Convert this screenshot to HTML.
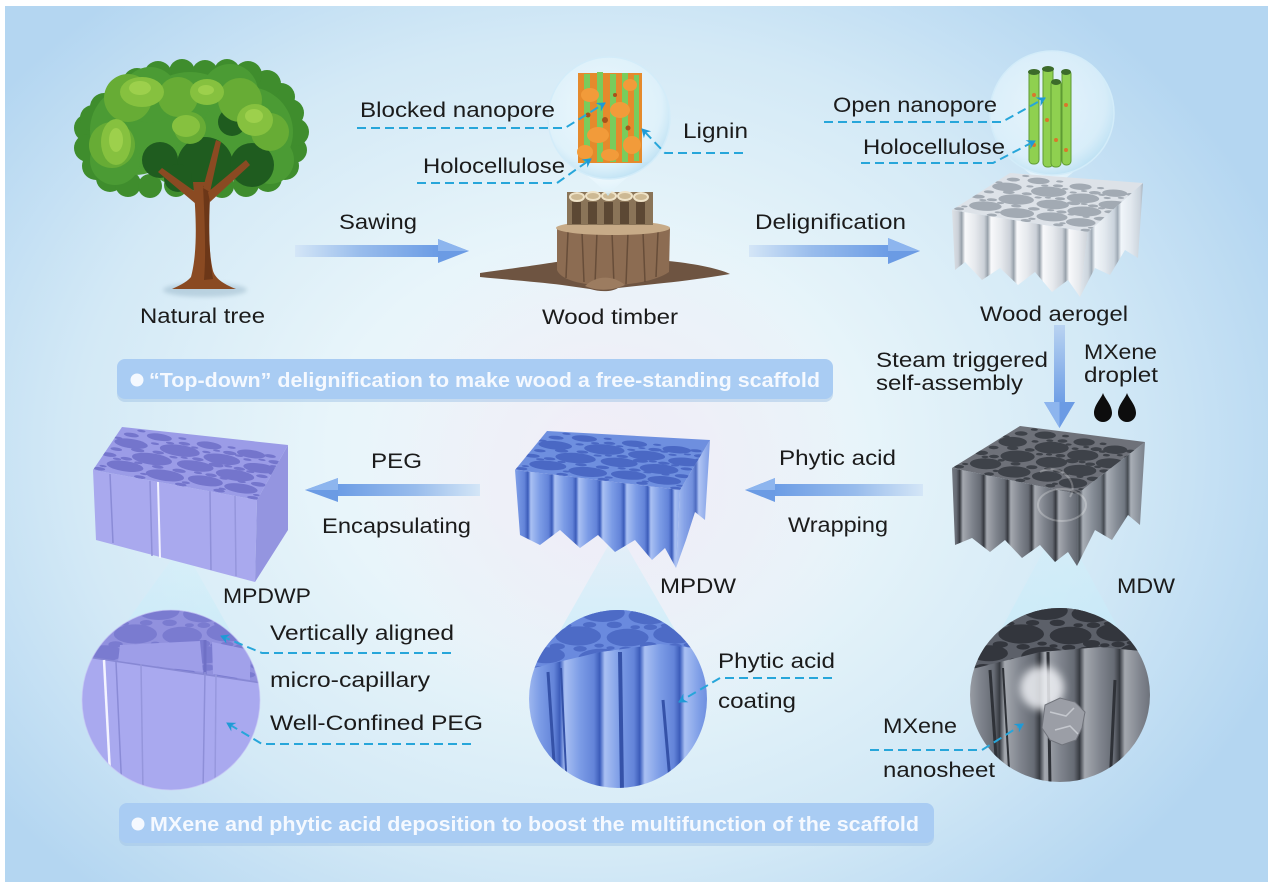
<!DOCTYPE html>
<html><head><meta charset="utf-8">
<style>
html,body{margin:0;padding:0;background:#fff;}
svg{display:block;}
text{font-family:"Liberation Sans",Arial,sans-serif;fill:#1b1b1b;}
.b{font-weight:bold;fill:#f5f9ff;}
</style></head><body>
<svg width="1275" height="889" viewBox="0 0 1275 889" xmlns="http://www.w3.org/2000/svg">
<defs>
 <radialGradient id="bg" cx="590" cy="450" r="740" gradientUnits="userSpaceOnUse" gradientTransform="translate(590 450) scale(1 0.8) translate(-590 -450)">
  <stop offset="0" stop-color="#f1f7fb"/>
  <stop offset="0.35" stop-color="#e8f5fa"/>
  <stop offset="0.7" stop-color="#d3e9f6"/>
  <stop offset="1" stop-color="#b4d6f1"/>
 </radialGradient>
 <radialGradient id="lav" cx="620" cy="480" r="260" gradientUnits="userSpaceOnUse">
  <stop offset="0" stop-color="#efe6f4" stop-opacity="0.7"/>
  <stop offset="1" stop-color="#efe6f4" stop-opacity="0"/>
 </radialGradient>
 <linearGradient id="arR" x1="0" x2="1" y1="0" y2="0">
  <stop offset="0" stop-color="#d4e6f7"/><stop offset="0.45" stop-color="#98bcec"/><stop offset="1" stop-color="#6b9ce5"/>
 </linearGradient>
 <linearGradient id="arL" x1="1" x2="0" y1="0" y2="0">
  <stop offset="0" stop-color="#d4e6f7"/><stop offset="0.45" stop-color="#98bcec"/><stop offset="1" stop-color="#6b9ce5"/>
 </linearGradient>
 <linearGradient id="arD" x1="0" x2="0" y1="0" y2="1">
  <stop offset="0" stop-color="#b9d3f1"/><stop offset="1" stop-color="#6d9de5"/>
 </linearGradient>
 <linearGradient id="cone" x1="0" x2="0" y1="0" y2="1">
  <stop offset="0" stop-color="#d2f0fb" stop-opacity="0.35"/><stop offset="1" stop-color="#c2e9f8" stop-opacity="0.85"/>
 </linearGradient>
 <radialGradient id="bub" cx="0.45" cy="0.4" r="0.6">
  <stop offset="0" stop-color="#f4fcff" stop-opacity="0.7"/>
  <stop offset="0.8" stop-color="#dff2fb" stop-opacity="0.75"/>
  <stop offset="1" stop-color="#bfe2f4" stop-opacity="0.9"/>
 </radialGradient>
 <linearGradient id="gW" x1="0" x2="1"><stop offset="0" stop-color="#a3abb4"/><stop offset="0.12" stop-color="#f8f9fb"/><stop offset="0.5" stop-color="#e6e9ed"/><stop offset="0.85" stop-color="#cbd1d8"/><stop offset="1" stop-color="#949da7"/></linearGradient>
 <linearGradient id="gG" x1="0" x2="1"><stop offset="0" stop-color="#3e4249"/><stop offset="0.12" stop-color="#a4a8af"/><stop offset="0.5" stop-color="#80858e"/><stop offset="0.85" stop-color="#666b74"/><stop offset="1" stop-color="#34373d"/></linearGradient>
 <linearGradient id="gB" x1="0" x2="1"><stop offset="0" stop-color="#3d5fbf"/><stop offset="0.12" stop-color="#a9c0f3"/><stop offset="0.5" stop-color="#7c9ce6"/><stop offset="0.85" stop-color="#6384d9"/><stop offset="1" stop-color="#3b5bb8"/></linearGradient>
 <pattern id="pW" width="26" height="20" patternUnits="userSpaceOnUse"><rect width="26" height="20" fill="url(#gW)"/></pattern>
 <pattern id="pG" width="24" height="20" patternUnits="userSpaceOnUse"><rect width="24" height="20" fill="url(#gG)"/></pattern>
 <pattern id="pB" width="24" height="20" patternUnits="userSpaceOnUse"><rect width="24" height="20" fill="url(#gB)"/></pattern>
 <pattern id="pB2" width="40" height="20" patternUnits="userSpaceOnUse"><rect width="40" height="20" fill="url(#gB)"/></pattern>
 <pattern id="pG2" width="40" height="20" patternUnits="userSpaceOnUse"><rect width="40" height="20" fill="url(#gG)"/></pattern>
 <filter id="bl4" x="-50%" y="-50%" width="200%" height="200%"><feGaussianBlur stdDeviation="4"/></filter>
 <filter id="bl2" x="-50%" y="-50%" width="200%" height="200%"><feGaussianBlur stdDeviation="2"/></filter>
 <marker id="ah" markerWidth="10" markerHeight="10" refX="8" refY="5" orient="auto" markerUnits="userSpaceOnUse">
  <path d="M0,0 L9,5 L0,10 L3,5 Z" fill="#1f9ad6"/>
 </marker>
 <g id="holes">
  <circle cx="16" cy="20" r="11"/><circle cx="41" cy="16" r="11.5"/><circle cx="65" cy="20" r="10.5"/><circle cx="87" cy="18" r="10"/>
  <circle cx="28" cy="45" r="12"/><circle cx="54" cy="47" r="11"/><circle cx="79" cy="43" r="11.5"/><circle cx="11" cy="69" r="10"/>
  <circle cx="40" cy="73" r="12"/><circle cx="66" cy="71" r="11"/><circle cx="90" cy="67" r="10"/><circle cx="24" cy="93" r="7.5"/>
  <circle cx="54" cy="95" r="7.5"/><circle cx="80" cy="93" r="8.5"/>
  <circle cx="3" cy="38" r="4.5"/><circle cx="14" cy="36" r="3.5"/><circle cx="47" cy="31" r="4"/><circle cx="66" cy="34" r="3.5"/>
  <circle cx="95" cy="33" r="4.5"/><circle cx="5" cy="52" r="3.5"/><circle cx="17" cy="58" r="4"/><circle cx="65" cy="57" r="4.5"/>
  <circle cx="94" cy="51" r="3.5"/><circle cx="29" cy="61" r="3.5"/><circle cx="53" cy="62" r="3.5"/><circle cx="79" cy="58" r="3.5"/>
  <circle cx="8" cy="87" r="4.5"/><circle cx="40" cy="89" r="3.5"/><circle cx="68" cy="87" r="4"/><circle cx="96" cy="85" r="4"/>
  <circle cx="53" cy="3" r="3.5"/><circle cx="76" cy="5" r="3.5"/><circle cx="28" cy="3" r="3.5"/><circle cx="97" cy="3" r="3.5"/>
  <circle cx="3" cy="5" r="3.5"/><circle cx="34" cy="31" r="3.5"/><circle cx="91" cy="96" r="3.5"/>
  <circle cx="9" cy="32" r="2.5"/><circle cx="22" cy="32" r="2.5"/><circle cx="58" cy="34" r="2.5"/><circle cx="74" cy="32" r="2.5"/>
  <circle cx="85" cy="32" r="2.5"/><circle cx="39" cy="57" r="2.5"/><circle cx="45" cy="60" r="2.2"/><circle cx="72" cy="59" r="2.5"/>
  <circle cx="86" cy="56" r="2.5"/><circle cx="99" cy="60" r="2.5"/><circle cx="2" cy="76" r="2.5"/><circle cx="24" cy="78" r="2.5"/>
  <circle cx="55" cy="80" r="2.5"/><circle cx="80" cy="80" r="2.5"/><circle cx="97" cy="76" r="2.5"/><circle cx="32" cy="85" r="2.5"/>
  <circle cx="47" cy="85" r="2.2"/><circle cx="60" cy="87" r="2.2"/><circle cx="74" cy="85" r="2.5"/><circle cx="88" cy="85" r="2.2"/>
  <circle cx="12" cy="99" r="2.5"/><circle cx="37" cy="99" r="2.5"/><circle cx="67" cy="99" r="2.5"/><circle cx="29" cy="11" r="2.2"/>
  <circle cx="55" cy="9" r="2.5"/><circle cx="77" cy="10" r="2.2"/><circle cx="98" cy="10" r="2.2"/><circle cx="4" cy="12" r="2.2"/>
 </g>
 <clipPath id="cAer"><polygon points="952,210 1010,173 1143,183 1088,232"/></clipPath>
 <clipPath id="cMdw"><polygon points="952,468 1020,426 1145,442 1077,494"/></clipPath>
 <clipPath id="cMpdw"><polygon points="515,470 547,431 710,440 680,490"/></clipPath>
 <clipPath id="cMpdwp"><polygon points="93,470 122,427 288,445 257,500"/></clipPath>
 <clipPath id="eP"><ellipse cx="171" cy="700" rx="89" ry="90"/></clipPath>
 <clipPath id="eB"><ellipse cx="618" cy="699" rx="89" ry="89"/></clipPath>
 <clipPath id="eG"><ellipse cx="1060" cy="695" rx="90" ry="87"/></clipPath>
 <clipPath id="tP"><polygon points="80,600 262,600 262,683 87,657"/></clipPath>
 <clipPath id="tB"><polygon points="525,600 712,600 712,650 660,644 600,652 525,670"/></clipPath>
 <clipPath id="tG"><polygon points="968,600 1152,600 1152,652 1100,647 1040,652 968,670"/></clipPath>
</defs>

<!-- background panel -->
<rect width="1275" height="889" fill="#ffffff"/>
<rect x="5" y="6" width="1263" height="876" fill="url(#bg)"/>
<rect x="5" y="6" width="1263" height="876" fill="url(#lav)"/>

<!-- ============ TREE ============ -->
<ellipse cx="205" cy="290" rx="42" ry="7" fill="#7d9fb5" opacity="0.35" filter="url(#bl2)"/>
<g fill="#3f8d2d">
 <circle cx="88" cy="128" r="14"/><circle cx="88" cy="148" r="14"/><circle cx="96" cy="166" r="14"/><circle cx="110" cy="178" r="14"/>
 <circle cx="128" cy="184" r="13"/><circle cx="150" cy="186" r="12"/><circle cx="176" cy="185" r="12"/><circle cx="222" cy="186" r="12"/>
 <circle cx="246" cy="184" r="13"/><circle cx="268" cy="178" r="14"/><circle cx="285" cy="166" r="14"/><circle cx="294" cy="150" r="13"/>
 <circle cx="295" cy="132" r="14"/><circle cx="290" cy="113" r="14"/><circle cx="281" cy="97" r="14"/><circle cx="267" cy="84" r="14"/>
 <circle cx="248" cy="75" r="14"/><circle cx="227" cy="72" r="13"/><circle cx="205" cy="73" r="13"/><circle cx="182" cy="72" r="13"/>
 <circle cx="158" cy="75" r="14"/><circle cx="137" cy="82" r="14"/><circle cx="120" cy="94" r="14"/><circle cx="104" cy="107" r="14"/><circle cx="93" cy="118" r="13"/>
</g>
<g fill="#4b9b34">
 <circle cx="190" cy="130" r="58"/><circle cx="135" cy="130" r="45"/><circle cx="248" cy="132" r="45"/>
 <circle cx="150" cy="95" r="28"/><circle cx="230" cy="92" r="28"/><circle cx="115" cy="160" r="25"/><circle cx="270" cy="160" r="24"/>
</g>
<g fill="#1f5c1f">
 <circle cx="205" cy="165" r="28"/><circle cx="252" cy="165" r="22"/><circle cx="160" cy="160" r="18"/><circle cx="232" cy="122" r="14"/>
 <circle cx="178" cy="178" r="14"/>
</g>
<g fill="#67ac35">
 <circle cx="128" cy="98" r="24"/><circle cx="178" cy="97" r="20"/><circle cx="240" cy="100" r="22"/><circle cx="270" cy="132" r="19"/>
 <circle cx="112" cy="145" r="23"/><circle cx="190" cy="128" r="16"/>
</g>
<g fill="#86c13f">
 <ellipse cx="142" cy="92" rx="22" ry="15"/><ellipse cx="207" cy="92" rx="17" ry="13"/><ellipse cx="255" cy="120" rx="18" ry="16"/>
 <ellipse cx="116" cy="142" rx="15" ry="23"/><ellipse cx="186" cy="126" rx="14" ry="11"/>
</g>
<g fill="#9dd04c">
 <ellipse cx="140" cy="88" rx="11" ry="7"/><ellipse cx="116" cy="140" rx="7" ry="12"/><ellipse cx="254" cy="116" rx="9" ry="7"/><ellipse cx="206" cy="90" rx="8" ry="5"/>
</g>
<path d="M193,182 C197,220 197,255 191,277 C186,283 178,286 172,289 L236,289 C226,285 216,280 213,271 C208,250 208,215 211,182 Z" fill="#8a4a22"/>
<path d="M203,186 C205,225 206,255 204,280 L213,279 C209,255 208,220 211,184 Z" fill="#6c3718"/>
<path d="M197,193 L162,168 L158,172 L196,204 Z" fill="#8a4a22"/>
<path d="M208,192 L246,160 L250,165 L210,202 Z" fill="#8a4a22"/>
<path d="M203,188 L216,140 L221,142 L210,192 Z" fill="#8a4a22"/>

<!-- ============ ARROWS ============ -->
<rect x="295" y="245" width="145" height="12" fill="url(#arR)"/>
<polygon points="438,239 469,251 438,263" fill="#6b9be4"/><polygon points="438,239 469,251 438,251" fill="#8db5ee"/>
<rect x="749" y="245" width="141" height="12" fill="url(#arR)"/>
<polygon points="888,238 920,251 888,264" fill="#6b9be4"/><polygon points="888,238 920,251 888,251" fill="#8db5ee"/>
<rect x="336" y="484" width="144" height="12" fill="url(#arL)"/>
<polygon points="338,478 305,490 338,502" fill="#6b9be4"/><polygon points="338,478 305,490 338,490" fill="#8db5ee"/>
<rect x="773" y="484" width="150" height="12" fill="url(#arL)"/>
<polygon points="775,478 745,490 775,502" fill="#6b9be4"/><polygon points="775,478 745,490 775,490" fill="#8db5ee"/>
<rect x="1054" y="325" width="11" height="79" fill="url(#arD)"/>
<polygon points="1044,402 1075,402 1059.5,428" fill="#6b9be4"/><polygon points="1044,402 1059.5,402 1059.5,428" fill="#8db5ee"/>

<!-- ============ STUMP ============ -->
<path d="M480,273 C515,268 545,264 562,261 L668,261 C690,263 718,268 730,274 C705,278 684,281 664,283 L618,288 C612,292 600,292 590,289 L562,285 C540,282 510,280 480,277 Z" fill="#6e5441"/>
<path d="M557,228 L557,270 Q562,283 604,286 Q652,284 669,272 L670,228 Z" fill="#8c6c52"/>
<g stroke="#5e4634" stroke-width="1.5" opacity="0.8">
 <line x1="568" y1="232" x2="566" y2="278"/><line x1="582" y1="232" x2="584" y2="282"/><line x1="597" y1="232" x2="595" y2="284"/>
 <line x1="612" y1="232" x2="614" y2="285"/><line x1="628" y1="232" x2="626" y2="284"/><line x1="643" y1="232" x2="645" y2="282"/><line x1="658" y1="232" x2="656" y2="277"/>
</g>
<path d="M585,286 C595,276 612,274 625,285 C615,290 598,292 585,286 Z" fill="#9c7c60"/>
<ellipse cx="613" cy="228" rx="57" ry="7" fill="#c7ab88"/>
<rect x="567" y="192" width="86" height="33" fill="#8a7458"/>
<g fill="#5c4834"><rect x="572" y="202" width="9" height="22"/><rect x="588" y="202" width="9" height="22"/><rect x="604" y="202" width="9" height="22"/><rect x="620" y="202" width="9" height="22"/><rect x="636" y="202" width="9" height="22"/></g>
<g fill="#cdb994" stroke="#efe3c8" stroke-width="2"><ellipse cx="577" cy="197" rx="7" ry="4"/><ellipse cx="593" cy="196" rx="7" ry="4"/><ellipse cx="609" cy="196" rx="7" ry="4"/><ellipse cx="625" cy="196" rx="7" ry="4"/><ellipse cx="641" cy="197" rx="7" ry="4"/></g>

<!-- ============ BUBBLE 1 ============ -->
<path d="M568,162 Q598,182 608,196 Q618,182 650,162 Z" fill="url(#bub)"/>
<circle cx="609" cy="118" r="61" fill="url(#bub)" stroke="#d3ecf9" stroke-width="1.5"/>
<rect x="578" y="73" width="64" height="90" fill="#e58a2c"/>
<g fill="#79cc5c"><rect x="584" y="74" width="6" height="88"/><rect x="597" y="72" width="6" height="90"/><rect x="610" y="74" width="6" height="88"/><rect x="622" y="73" width="6" height="89"/><rect x="634" y="75" width="5" height="86"/></g>
<g fill="#f29b3a"><ellipse cx="590" cy="95" rx="9" ry="7"/><ellipse cx="620" cy="110" rx="10" ry="8"/><ellipse cx="598" cy="135" rx="11" ry="8"/><ellipse cx="632" cy="145" rx="9" ry="9"/><ellipse cx="585" cy="152" rx="8" ry="7"/><ellipse cx="630" cy="85" rx="7" ry="6"/><ellipse cx="610" cy="155" rx="9" ry="6"/></g>
<g fill="#a8521a"><circle cx="605" cy="120" r="3"/><circle cx="588" cy="115" r="2.5"/><circle cx="628" cy="128" r="2.5"/><circle cx="615" cy="95" r="2"/></g>

<!-- ============ BUBBLE 2 + AEROGEL ============ -->
<path d="M1012,160 Q1040,180 1050,196 Q1060,180 1090,160 Z" fill="url(#bub)"/>
<circle cx="1052" cy="113" r="62" fill="url(#bub)" stroke="#d3ecf9" stroke-width="1.5"/>
<g fill="#8fd050" stroke="#5e9a33" stroke-width="1">
 <rect x="1029" y="70" width="10" height="94" rx="4"/><rect x="1043" y="67" width="10" height="100" rx="4"/><rect x="1062" y="70" width="9" height="95" rx="4"/><rect x="1051" y="80" width="10" height="87" rx="4"/>
</g>
<g fill="#d9772c"><circle cx="1034" cy="95" r="2"/><circle cx="1047" cy="120" r="2"/><circle cx="1066" cy="105" r="2"/><circle cx="1056" cy="140" r="2"/><circle cx="1034" cy="145" r="2"/><circle cx="1066" cy="150" r="2"/></g>
<g fill="#3c6b2a"><ellipse cx="1034" cy="72" rx="6" ry="3"/><ellipse cx="1048" cy="69" rx="6" ry="3"/><ellipse cx="1066" cy="72" rx="5" ry="3"/><ellipse cx="1056" cy="82" rx="5" ry="3"/></g>

<polygon points="952,210 1088,232 1080,297 1068,280 1052,292 1035,272 1018,285 1000,268 982,280 965,262 955,270" fill="url(#pW)"/>
<polygon points="1088,232 1143,183 1138,258 1125,250 1110,275 1095,268 1080,297" fill="url(#pW)" opacity="0.85"/>
<polygon points="952,210 1010,173 1143,183 1088,232" fill="#dde2e8"/>
<g clip-path="url(#cAer)"><use href="#holes" transform="matrix(1.36,0.22,0.58,-0.37,952,210)" fill="#a2aab3"/></g>

<!-- ============ MDW ============ -->
<polygon points="1060,520 974,680 1146,680" fill="url(#cone)"/>
<polygon points="952,468 1077,494 1077,566 1068,552 1055,562 1040,545 1022,558 1005,540 990,552 972,538 955,545" fill="url(#pG)"/>
<polygon points="1077,494 1145,442 1140,525 1128,515 1112,540 1095,530 1077,566" fill="url(#pG)" opacity="0.9"/>
<polygon points="952,468 1020,426 1145,442 1077,494" fill="#6e7179"/>
<g clip-path="url(#cMdw)"><use href="#holes" transform="matrix(1.25,0.26,0.68,-0.42,952,468)" fill="#3e4249"/></g>
<g fill="none" stroke="#ffffff" stroke-width="2" opacity="0.25"><ellipse cx="1062" cy="505" rx="24" ry="16"/><path d="M1040,472 C1060,462 1080,482 1070,497"/></g>

<!-- ============ MPDW ============ -->
<polygon points="617,530 532,680 704,680" fill="url(#cone)"/>
<polygon points="515,470 680,490 676,568 665,548 652,560 635,540 615,552 598,535 580,548 560,530 540,545 520,535" fill="url(#pB)"/>
<polygon points="680,490 710,440 705,520 695,512 686,540 676,568" fill="url(#pB)" opacity="0.9"/>
<polygon points="515,470 547,431 710,440 680,490" fill="#6e8fdf"/>
<g clip-path="url(#cMpdw)"><use href="#holes" transform="matrix(1.65,0.20,0.32,-0.39,515,470)" fill="#4a68c4"/></g>

<!-- ============ MPDWP ============ -->
<polygon points="182,545 85,680 258,680" fill="url(#cone)"/>
<polygon points="93,470 257,500 255,582 96,540" fill="#a9a9ee"/>
<polygon points="257,500 288,445 288,530 255,582" fill="#9495e0"/>
<g stroke-width="1.5" fill="none"><line x1="110" y1="474" x2="113" y2="543" stroke="#8a8bd6"/><line x1="150" y1="481" x2="152" y2="556" stroke="#8f90d8"/><line x1="158" y1="482" x2="160" y2="558" stroke="#f2f2ff" stroke-width="2"/><line x1="210" y1="491" x2="211" y2="570" stroke="#8f90d8"/><line x1="235" y1="496" x2="236" y2="576" stroke="#9596dc"/></g>
<polygon points="93,470 122,427 288,445 257,500" fill="#9b9ce7"/>
<g clip-path="url(#cMpdwp)"><use href="#holes" transform="matrix(1.64,0.30,0.29,-0.43,93,470)" fill="#7475cc"/></g>

<!-- ============ ZOOM ELLIPSES ============ -->
<!-- MPDWP -->
<g clip-path="url(#eP)">
 <rect x="80" y="608" width="182" height="185" fill="#a9a9ef"/>
 <polygon points="80,600 262,600 262,683 87,657" fill="#9191de"/>
 <g clip-path="url(#tP)"><use href="#holes" transform="matrix(1.8,0,0,0.8,85,598)" fill="#7a7bd0"/></g>
 <polygon points="120,645 200,641 203,672 118,662" fill="#9e9ee8"/>
 <polygon points="212,642 250,650 250,680 213,674" fill="#a1a1ea"/>
 <line x1="205" y1="640" x2="205" y2="675" stroke="#6f70c6" stroke-width="3"/>
 <line x1="87" y1="657" x2="262" y2="683" stroke="#8788d4" stroke-width="1.5"/>
 <line x1="104" y1="660" x2="111" y2="792" stroke="#f4f4ff" stroke-width="2.5"/>
 <line x1="116" y1="662" x2="122" y2="792" stroke="#8a8bd6" stroke-width="1.5"/>
 <line x1="141" y1="664" x2="143" y2="792" stroke="#9596dc" stroke-width="1.5"/>
 <line x1="205" y1="672" x2="203" y2="792" stroke="#8e8fd8" stroke-width="1.5"/>
 <line x1="216" y1="674" x2="215" y2="792" stroke="#9798de" stroke-width="1.5"/>
</g>
<ellipse cx="171" cy="700" rx="89" ry="90" fill="none" stroke="#c9c9f5" stroke-width="1" opacity="0.7"/>
<!-- MPDW -->
<g clip-path="url(#eB)">
 <rect x="528" y="608" width="182" height="184" fill="url(#pB2)"/>
 <polygon points="525,600 712,600 712,650 660,644 600,652 525,670" fill="#6a8ade"/>
 <g clip-path="url(#tB)"><use href="#holes" transform="matrix(1.9,0,0,0.8,525,600)" fill="#4d6bc6"/></g>
 <g stroke="#3552a8"><line x1="548" y1="672" x2="556" y2="792" stroke-width="3"/><line x1="561" y1="668" x2="567" y2="792" stroke-width="2"/><line x1="620" y1="652" x2="622" y2="792" stroke-width="4"/><line x1="663" y1="700" x2="671" y2="792" stroke-width="3"/></g>
</g>
<!-- MDW -->
<g clip-path="url(#eG)">
 <rect x="968" y="606" width="184" height="180" fill="url(#pG2)"/>
 <polygon points="968,600 1152,600 1152,652 1100,647 1040,652 968,670" fill="#5c6069"/>
 <g clip-path="url(#tG)"><use href="#holes" transform="matrix(1.9,0,0,0.8,968,598)" fill="#33363d"/></g>
 <g stroke="#2f3238"><line x1="990" y1="670" x2="998" y2="786" stroke-width="3"/><line x1="1003" y1="668" x2="1010" y2="786" stroke-width="2"/><line x1="1048" y1="652" x2="1050" y2="786" stroke-width="3"/><line x1="1115" y1="680" x2="1110" y2="786" stroke-width="3"/></g>
 <circle cx="1042" cy="688" r="22" fill="#eef0f4" opacity="0.85" filter="url(#bl4)"/>
 <path d="M1045,705 L1060,698 L1075,702 L1085,712 L1082,728 L1076,740 L1062,745 L1050,740 L1042,728 Z" fill="#9b9ea6" stroke="#70737b" stroke-width="1"/>
 <path d="M1050,712 L1066,716 L1074,708 M1055,730 L1070,726 L1078,734" stroke="#c5c8ce" stroke-width="1.5" fill="none"/>
</g>

<!-- ============ DROPLETS ============ -->
<path transform="translate(1103,408)" d="M0,-15 C2,-9 9,-3 9,5 A9,9 0 1 1 -9,5 C-9,-3 -2,-9 0,-15 Z" fill="#0d0d0d"/>
<path transform="translate(1127,408)" d="M0,-15 C2,-9 9,-3 9,5 A9,9 0 1 1 -9,5 C-9,-3 -2,-9 0,-15 Z" fill="#0d0d0d"/>

<!-- ============ DASHED LEADERS ============ -->
<g fill="none" stroke="#27a6da" stroke-width="2" stroke-dasharray="9,5" marker-end="url(#ah)">
 <path d="M357,128 H565 L605,103"/>
 <path d="M417,183 H557 L591,159"/>
 <path d="M743,153 H665 L642,129"/>
 <path d="M824,122 H1002 L1045,98"/>
 <path d="M861,163 H993 L1035,141"/>
 <path d="M451,653 H262 L221,636"/>
 <path d="M471,744 H262 L227,723"/>
 <path d="M832,678 H720 L679,702"/>
 <path d="M870,750 H982 L1023,724"/>
</g>

<!-- ============ BANNERS ============ -->
<rect x="117" y="362" width="716" height="40" rx="8" fill="#a2c4e6" opacity="0.5"/>
<rect x="117" y="359" width="716" height="40" rx="8" fill="#a9ccf3"/>
<circle cx="137" cy="380" r="6.5" fill="#f5f9ff"/>
<text class="b" x="149" y="387" font-size="20" textLength="671" lengthAdjust="spacingAndGlyphs">“Top-down” delignification to make wood a free-standing scaffold</text>
<rect x="119" y="806" width="815" height="40" rx="8" fill="#a2c4e6" opacity="0.5"/>
<rect x="119" y="803" width="815" height="40" rx="8" fill="#a9ccf3"/>
<circle cx="138" cy="824" r="6.5" fill="#f5f9ff"/>
<text class="b" x="150" y="831" font-size="20" textLength="769" lengthAdjust="spacingAndGlyphs">MXene and phytic acid deposition to boost the multifunction of the scaffold</text>

<!-- ============ LABELS ============ -->
<g font-size="21">
 <text x="360" y="117" textLength="195" lengthAdjust="spacingAndGlyphs">Blocked nanopore</text>
 <text x="683" y="138" textLength="65" lengthAdjust="spacingAndGlyphs">Lignin</text>
 <text x="423" y="173" textLength="142" lengthAdjust="spacingAndGlyphs">Holocellulose</text>
 <text x="339" y="229" textLength="78" lengthAdjust="spacingAndGlyphs">Sawing</text>
 <text x="755" y="229" textLength="151" lengthAdjust="spacingAndGlyphs">Delignification</text>
 <text x="833" y="112" textLength="164" lengthAdjust="spacingAndGlyphs">Open nanopore</text>
 <text x="863" y="154" textLength="142" lengthAdjust="spacingAndGlyphs">Holocellulose</text>
 <text x="140" y="323" textLength="125" lengthAdjust="spacingAndGlyphs">Natural tree</text>
 <text x="542" y="324" textLength="136" lengthAdjust="spacingAndGlyphs">Wood timber</text>
 <text x="980" y="321" textLength="148" lengthAdjust="spacingAndGlyphs">Wood aerogel</text>
 <text x="876" y="367" textLength="172" lengthAdjust="spacingAndGlyphs">Steam triggered</text>
 <text x="876" y="390" textLength="147" lengthAdjust="spacingAndGlyphs">self-assembly</text>
 <text x="1084" y="359" textLength="73" lengthAdjust="spacingAndGlyphs">MXene</text>
 <text x="1084" y="382" textLength="74" lengthAdjust="spacingAndGlyphs">droplet</text>
 <text x="371" y="468" textLength="51" lengthAdjust="spacingAndGlyphs">PEG</text>
 <text x="322" y="533" textLength="149" lengthAdjust="spacingAndGlyphs">Encapsulating</text>
 <text x="779" y="465" textLength="117" lengthAdjust="spacingAndGlyphs">Phytic acid</text>
 <text x="788" y="532" textLength="100" lengthAdjust="spacingAndGlyphs">Wrapping</text>
 <text x="223" y="603" textLength="88" lengthAdjust="spacingAndGlyphs">MPDWP</text>
 <text x="660" y="593" textLength="76" lengthAdjust="spacingAndGlyphs">MPDW</text>
 <text x="1117" y="593" textLength="58" lengthAdjust="spacingAndGlyphs">MDW</text>
 <text x="270" y="640" textLength="184" lengthAdjust="spacingAndGlyphs">Vertically aligned</text>
 <text x="270" y="687" textLength="160" lengthAdjust="spacingAndGlyphs">micro-capillary</text>
 <text x="270" y="730" textLength="213" lengthAdjust="spacingAndGlyphs">Well-Confined PEG</text>
 <text x="718" y="668" textLength="117" lengthAdjust="spacingAndGlyphs">Phytic acid</text>
 <text x="718" y="708" textLength="78" lengthAdjust="spacingAndGlyphs">coating</text>
 <text x="883" y="733" textLength="74" lengthAdjust="spacingAndGlyphs">MXene</text>
 <text x="883" y="777" textLength="112" lengthAdjust="spacingAndGlyphs">nanosheet</text>
</g>
</svg>
</body></html>
